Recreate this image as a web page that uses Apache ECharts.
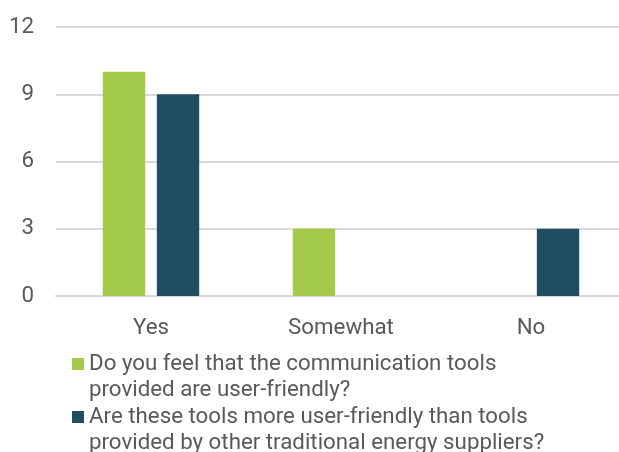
<!DOCTYPE html>
<html>
<head>
<meta charset="utf-8">
<style>
  html, body { margin: 0; padding: 0; background: #ffffff; }
  #chart { width: 619px; height: 452px; }
</style>
<script src="https://cdn.jsdelivr.net/npm/echarts@6/dist/echarts.min.js"></script>
</head>
<body>
<div id="chart"></div>
<script>
// Survey answers per question
const categories = ['Yes', 'Somewhat', 'No'];
const seriesNames = [
  'Do you feel that the communication tools provided are user-friendly?',
  'Are these tools more user-friendly than tools provided by other traditional energy suppliers?'
];
// Legend text split onto two lines
const legendLines = [
  ['Do you feel that the communication tools', 'provided are user-friendly?'],
  ['Are these tools more user-friendly than tools', 'provided by other traditional energy suppliers?']
];
const friendlyValues = [10, 3, 0];
const moreFriendlyValues = [9, 0, 3];
const yTicks = { min: 0, max: 12, interval: 3 };

const colors = ['#A3C94A', '#1F4E60'];
const textColor = '#595959';
const fontFamily = 'Roboto, "Open Sans", sans-serif';
const fontSize = 22.3;
const lineH = 26;

// Square marker sitting at the top of a taller box, so it lines up
// with the first of the two legend text lines.
const iconH = 12 + lineH;
const topSquareIcon = 'path://M0,0H12V12H0Z M0,' + (iconH - 0.01) + 'H0.01V' + iconH + 'H0Z';

const chart = echarts.init(document.getElementById('chart'), null, { renderer: 'canvas' });

function legendFor(i, top) {
  return {
    show: true,
    orient: 'vertical',
    left: 72,
    top: top,
    padding: 0,
    itemWidth: 12,
    itemHeight: iconH,
    icon: topSquareIcon,
    selectedMode: false,
    data: [seriesNames[i]],
    formatter: () => legendLines[i].join('\n'),
    textStyle: {
      color: textColor,
      fontFamily: fontFamily,
      fontSize: fontSize,
      lineHeight: lineH
    }
  };
}

chart.setOption({
  animation: false,
  backgroundColor: '#ffffff',
  color: colors,
  grid: {
    left: 56, width: 570, top: 27, height: 269,
    containLabel: false, outerBoundsMode: 'none'
  },
  legend: [legendFor(0, 351), legendFor(1, 404)],
  xAxis: {
    type: 'category',
    data: categories,
    axisTick: { show: false },
    axisLine: { show: true, lineStyle: { color: '#D9D9D9', width: 2 } },
    axisLabel: {
      color: textColor,
      fontFamily: fontFamily,
      fontSize: fontSize,
      margin: 21
    }
  },
  yAxis: {
    type: 'value',
    min: yTicks.min,
    max: yTicks.max,
    interval: yTicks.interval,
    axisLine: { show: false },
    axisTick: { show: false },
    splitLine: { lineStyle: { color: '#D9D9D9', width: 2 } },
    axisLabel: {
      color: textColor,
      fontFamily: fontFamily,
      fontSize: fontSize,
      margin: 22
    }
  },
  series: [
    {
      name: seriesNames[0],
      type: 'bar',
      data: friendlyValues,
      barWidth: '22.3%',
      barGap: '27.5%',
      itemStyle: { color: colors[0] }
    },
    {
      name: seriesNames[1],
      type: 'bar',
      data: moreFriendlyValues,
      barWidth: '22.3%',
      barGap: '27.5%',
      itemStyle: { color: colors[1] }
    }
  ]
});
</script>
</body>
</html>
